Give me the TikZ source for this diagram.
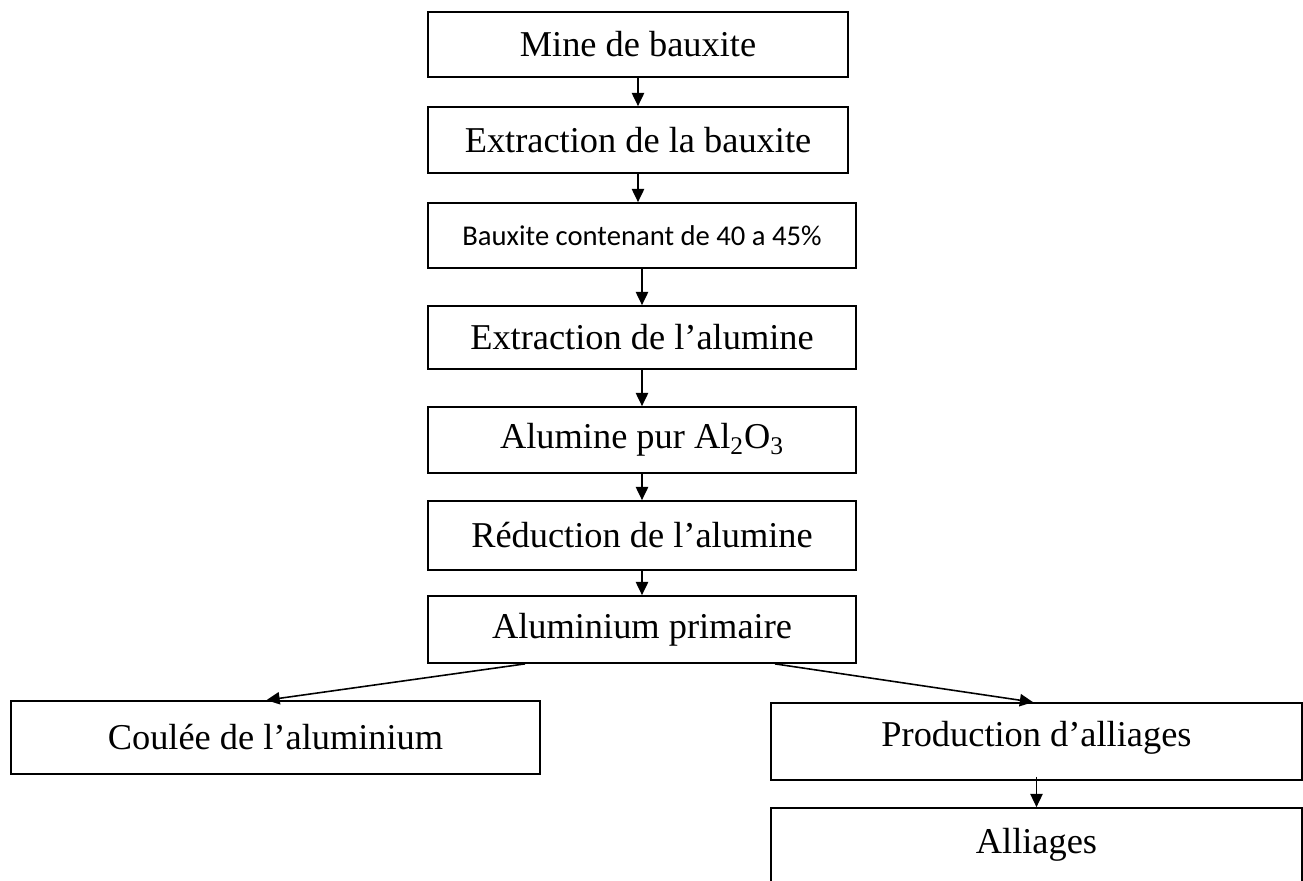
\documentclass[tikz,border=0pt]{standalone}
\usepackage{fontspec}
\setmainfont{Liberation Serif}
\newfontfamily\calib{Carlito}
\usetikzlibrary{arrows.meta}
\tikzset{
  stage/.style={draw,line width=1pt,inner sep=0pt,align=center,
    font=\fontsize{20.7}{24}\selectfont},
  arr/.style={-{Triangle[length=7.5pt,width=7pt]},line width=0.9pt}
}
\begin{document}
\begin{tikzpicture}[x=0.02cm,y=-0.02cm]
  \useasboundingbox (0,0) rectangle (1303,880);
  % main column: from the mine down to primary aluminium
  \node[stage,minimum width=8.4cm,minimum height=1.3cm] (b1) at (638,44.5) {Mine de bauxite};
  \node[stage,minimum width=8.4cm,minimum height=1.32cm] (b2) at (638,140) {Extraction de la bauxite};
  \node[stage,minimum width=8.56cm,minimum height=1.3cm,font=\calib\fontsize{16.3}{19}\selectfont] (b3) at (642,235.5) {Bauxite contenant de 40 a 45\%};
  \node[stage,minimum width=8.56cm,minimum height=1.26cm] (b4) at (642,337.5) {Extraction de l’alumine};
  \node[stage,minimum width=8.56cm,minimum height=1.32cm] (b5) at (642,440) {Alumine pur Al\textsubscript{2}O\textsubscript{3}};
  \node[stage,minimum width=8.56cm,minimum height=1.38cm] (b6) at (642,535.5) {Réduction de l’alumine};
  \node[stage,minimum width=8.56cm,minimum height=1.34cm] (b7) at (642,629.5) {Aluminium primaire};
  \foreach \a/\b in {b1/b2,b2/b3,b3/b4,b4/b5,b5/b6,b6/b7}
    \draw[arr] (\a.south) -- (\a.south |- \b.north);
  % two branches
  \node[stage,minimum width=10.58cm,minimum height=1.46cm] (cast) at (275.5,737.5) {Coulée de l’aluminium};
  \node[stage,minimum width=10.62cm,minimum height=1.54cm,text depth=9pt] (prod) at (1036.5,741.5) {Production d’alliages};
  \node[stage,minimum width=10.62cm,minimum height=1.6cm,text depth=8pt] (alloy) at (1036.5,848) {Alliages};
  \draw[arr] ([xshift=-2.34cm]b7.south) -- ([xshift=-0.18cm]cast.north);
  \draw[arr] ([xshift=2.66cm]b7.south) -- ([xshift=-0.07cm]prod.north);
  \draw[arr,line width=0.7pt] ([yshift=0.08cm]prod.south) -- (alloy.north);
\end{tikzpicture}
\end{document}
